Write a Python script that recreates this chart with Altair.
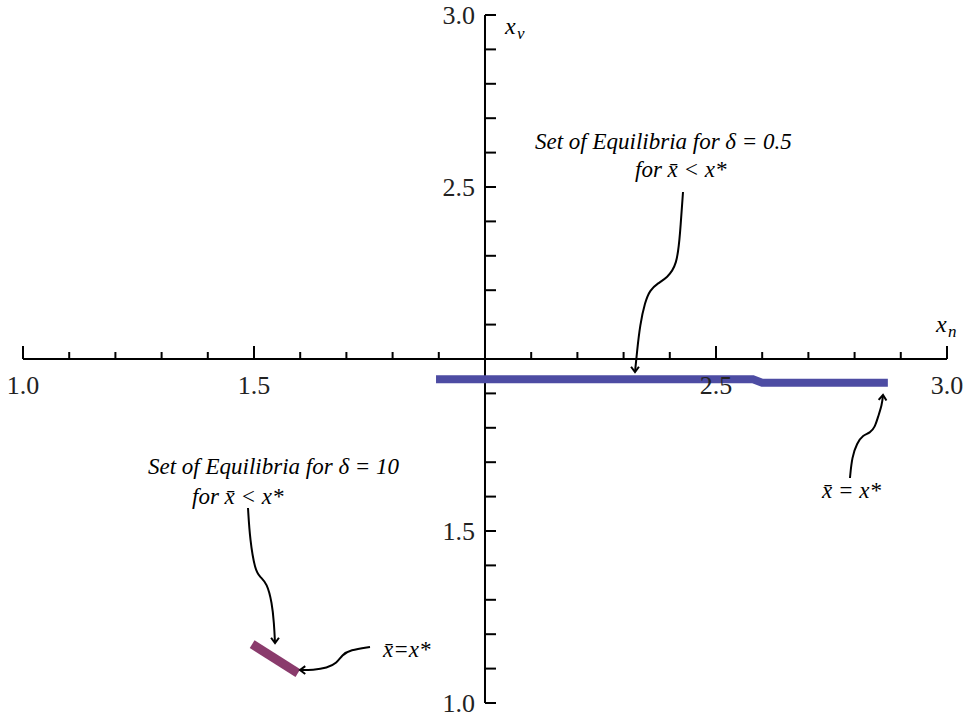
import altair as alt
import pandas as pd

# --- equilibrium sets ---------------------------------------------------
blue_x = [1.894, 2.580, 2.600, 2.872]
blue_y = [1.941, 1.941, 1.931, 1.931]

purple_x = [1.496, 1.595]
purple_y = [1.171, 1.087]

# --- axis ticks and labels ----------------------------------------------
x_minor = [round(1.0 + 0.1 * i, 1) for i in range(21) if i != 10]
y_minor = [round(1.0 + 0.1 * i, 1) for i in range(21) if i != 10]
x_major = [1.0, 1.5, 2.5, 3.0]
y_major = [1.0, 1.5, 2.5, 3.0]
tick_labels = ["1.0", "1.5", "2.5", "3.0"]

# --- annotation arrows (curves in data coordinates) ---------------------
arrow_a_x = [2.4286, 2.4221, 2.4156, 2.3939, 2.3745, 2.3571, 2.3463, 2.3355, 2.3290, 2.3247]
arrow_a_y = [2.4855, 2.3605, 2.2733, 2.2355, 2.2209, 2.2006, 2.1657, 2.0988, 2.0203, 1.9622]
arrow_b_x = [2.7900, 2.7944, 2.8052, 2.8182, 2.8333, 2.8442, 2.8506, 2.8593, 2.8615]
arrow_b_y = [1.6541, 1.7151, 1.7558, 1.7791, 1.7849, 1.8023, 1.8314, 1.8663, 1.8953]
arrow_c_x = [1.4870, 1.4913, 1.5022, 1.5130, 1.5281, 1.5390, 1.5433, 1.5455]
arrow_c_y = [1.5669, 1.4738, 1.3866, 1.3663, 1.3488, 1.2907, 1.2326, 1.1744]
arrow_d_x = [1.7511, 1.7078, 1.6905, 1.6797, 1.6580, 1.6277, 1.5996]
arrow_d_y = [1.1628, 1.1541, 1.1395, 1.1163, 1.1017, 1.0959, 1.0959]
# arrowhead direction (degrees clockwise from "up") at each curve's end
arrow_head_angle = [180, 5, 180, 270]

# --- annotation texts ----------------------------------------------------
note_text = [
    "Set of Equilibria for δ = 0.5",
    "for x̄ < x*",
    "Set of Equilibria for δ = 10",
    "for x̄ < x*",
    "x̄ = x*",
    "x̄=x*",
]
note_x = [2.1082, 2.3247, 1.2706, 1.3658, 2.7294, 1.7792]
note_y = [2.6308, 2.5494, 1.6860, 1.5988, 1.6163, 1.1541]

W, H = 965, 717
x_scale = alt.Scale(domain=[0.9502, 3.0390], nice=False, zero=False)
y_scale = alt.Scale(domain=[0.9593, 3.0436], nice=False, zero=False)


def X(field="x"):
    return alt.X(f"{field}:Q", scale=x_scale, axis=None)


def Y(field="y"):
    return alt.Y(f"{field}:Q", scale=y_scale, axis=None)


ORIGIN = 2.0
serif = "Liberation Serif"

# axis lines through the origin
x_axis_line = alt.Chart(pd.DataFrame({"x": [1.0], "x2": [3.0], "y": [ORIGIN]})).mark_rule(
    color="black", strokeWidth=2
).encode(x=X(), x2="x2:Q", y=Y())
y_axis_line = alt.Chart(pd.DataFrame({"y": [1.0], "y2": [3.0], "x": [ORIGIN]})).mark_rule(
    color="black", strokeWidth=2
).encode(y=Y(), y2="y2:Q", x=X())

# tick marks: x ticks point up, y ticks point right
xt = pd.DataFrame({"x": x_minor, "y": ORIGIN})
xt["major"] = xt["x"].isin(x_major)
x_ticks_minor = alt.Chart(xt[~xt["major"]]).mark_rule(
    color="black", strokeWidth=2, y2Offset=-7
).encode(x=X(), y=Y(), y2="y:Q")
x_ticks_major = alt.Chart(xt[xt["major"]]).mark_rule(
    color="black", strokeWidth=2, y2Offset=-13
).encode(x=X(), y=Y(), y2="y:Q")

yt = pd.DataFrame({"y": y_minor, "x": ORIGIN})
y_ticks = alt.Chart(yt).mark_rule(
    color="black", strokeWidth=2, x2Offset=11
).encode(x=X(), y=Y(), x2="x:Q")

x_labels = alt.Chart(pd.DataFrame({"x": x_major, "y": ORIGIN, "t": tick_labels})).mark_text(
    font=serif, fontSize=26, color="#222", baseline="middle", align="center", dy=27
).encode(x=X(), y=Y(), text="t:N")
y_labels = alt.Chart(pd.DataFrame({"y": y_major, "x": ORIGIN, "t": tick_labels})).mark_text(
    font=serif, fontSize=26, color="#222", baseline="middle", align="right", dx=-10, dy=1
).encode(x=X(), y=Y(), text="t:N")

# axis names with subscripts
name_df = pd.DataFrame({"x": [2.0433, 2.976], "y": [2.9651, 2.0988], "t": ["x", "x"], "s": ["v", "n"]})
axis_names = alt.Chart(name_df).mark_text(
    font=serif, fontStyle="italic", fontSize=24, align="left", baseline="middle", color="black"
).encode(x=X(), y=Y(), text="t:N")
axis_subs = alt.Chart(name_df).mark_text(
    font=serif, fontStyle="italic", fontSize=17, align="left", baseline="middle", color="black",
    dx=12, dy=7
).encode(x=X(), y=Y(), text="s:N")

# equilibrium sets
blue_line = alt.Chart(pd.DataFrame({"x": blue_x, "y": blue_y, "o": range(len(blue_x))})).mark_line(
    color="#4d4ca3", strokeWidth=8, strokeCap="butt"
).encode(x=X(), y=Y(), order="o:Q")
purple_line = alt.Chart(pd.DataFrame({"x": purple_x, "y": purple_y, "o": range(len(purple_x))})).mark_line(
    color="#8a3b6c", strokeWidth=9, strokeCap="butt"
).encode(x=X(), y=Y(), order="o:Q")

# curved annotation arrows
rows = []
heads = []
for k, (ax, ay) in enumerate([(arrow_a_x, arrow_a_y), (arrow_b_x, arrow_b_y),
                              (arrow_c_x, arrow_c_y), (arrow_d_x, arrow_d_y)]):
    for i, (px, py) in enumerate(zip(ax, ay)):
        rows.append({"arrow": k, "o": i, "x": px, "y": py})
    heads.append({"arrow": k, "x": ax[-1], "y": ay[-1], "ang": arrow_head_angle[k]})

arrow_curves = alt.Chart(pd.DataFrame(rows)).mark_line(
    color="black", strokeWidth=2, interpolate="basis"
).encode(x=X(), y=Y(), detail="arrow:N", order="o:Q")
arrow_heads = alt.Chart(pd.DataFrame(heads)).mark_point(
    shape="M -0.75 1 L 0 0 L 0.75 1", filled=False, color="black", strokeWidth=2, size=110, opacity=1
).encode(x=X(), y=Y(), angle=alt.Angle("ang:Q", scale=None))

notes = alt.Chart(pd.DataFrame({"x": note_x, "y": note_y, "t": note_text})).mark_text(
    font=serif, fontStyle="italic", fontSize=23, align="left", baseline="middle", color="black"
).encode(x=X(), y=Y(), text="t:N")

chart = alt.layer(
    x_axis_line, y_axis_line, x_ticks_minor, x_ticks_major, y_ticks,
    blue_line, purple_line, x_labels, y_labels, axis_names, axis_subs,
    arrow_curves, arrow_heads, notes,
).properties(
    width=W, height=H, autosize=alt.AutoSizeParams(type="none"), padding=0, background="white"
).configure_view(stroke=None)

chart.save("out.html", embed_options={"renderer": "svg", "actions": False})
